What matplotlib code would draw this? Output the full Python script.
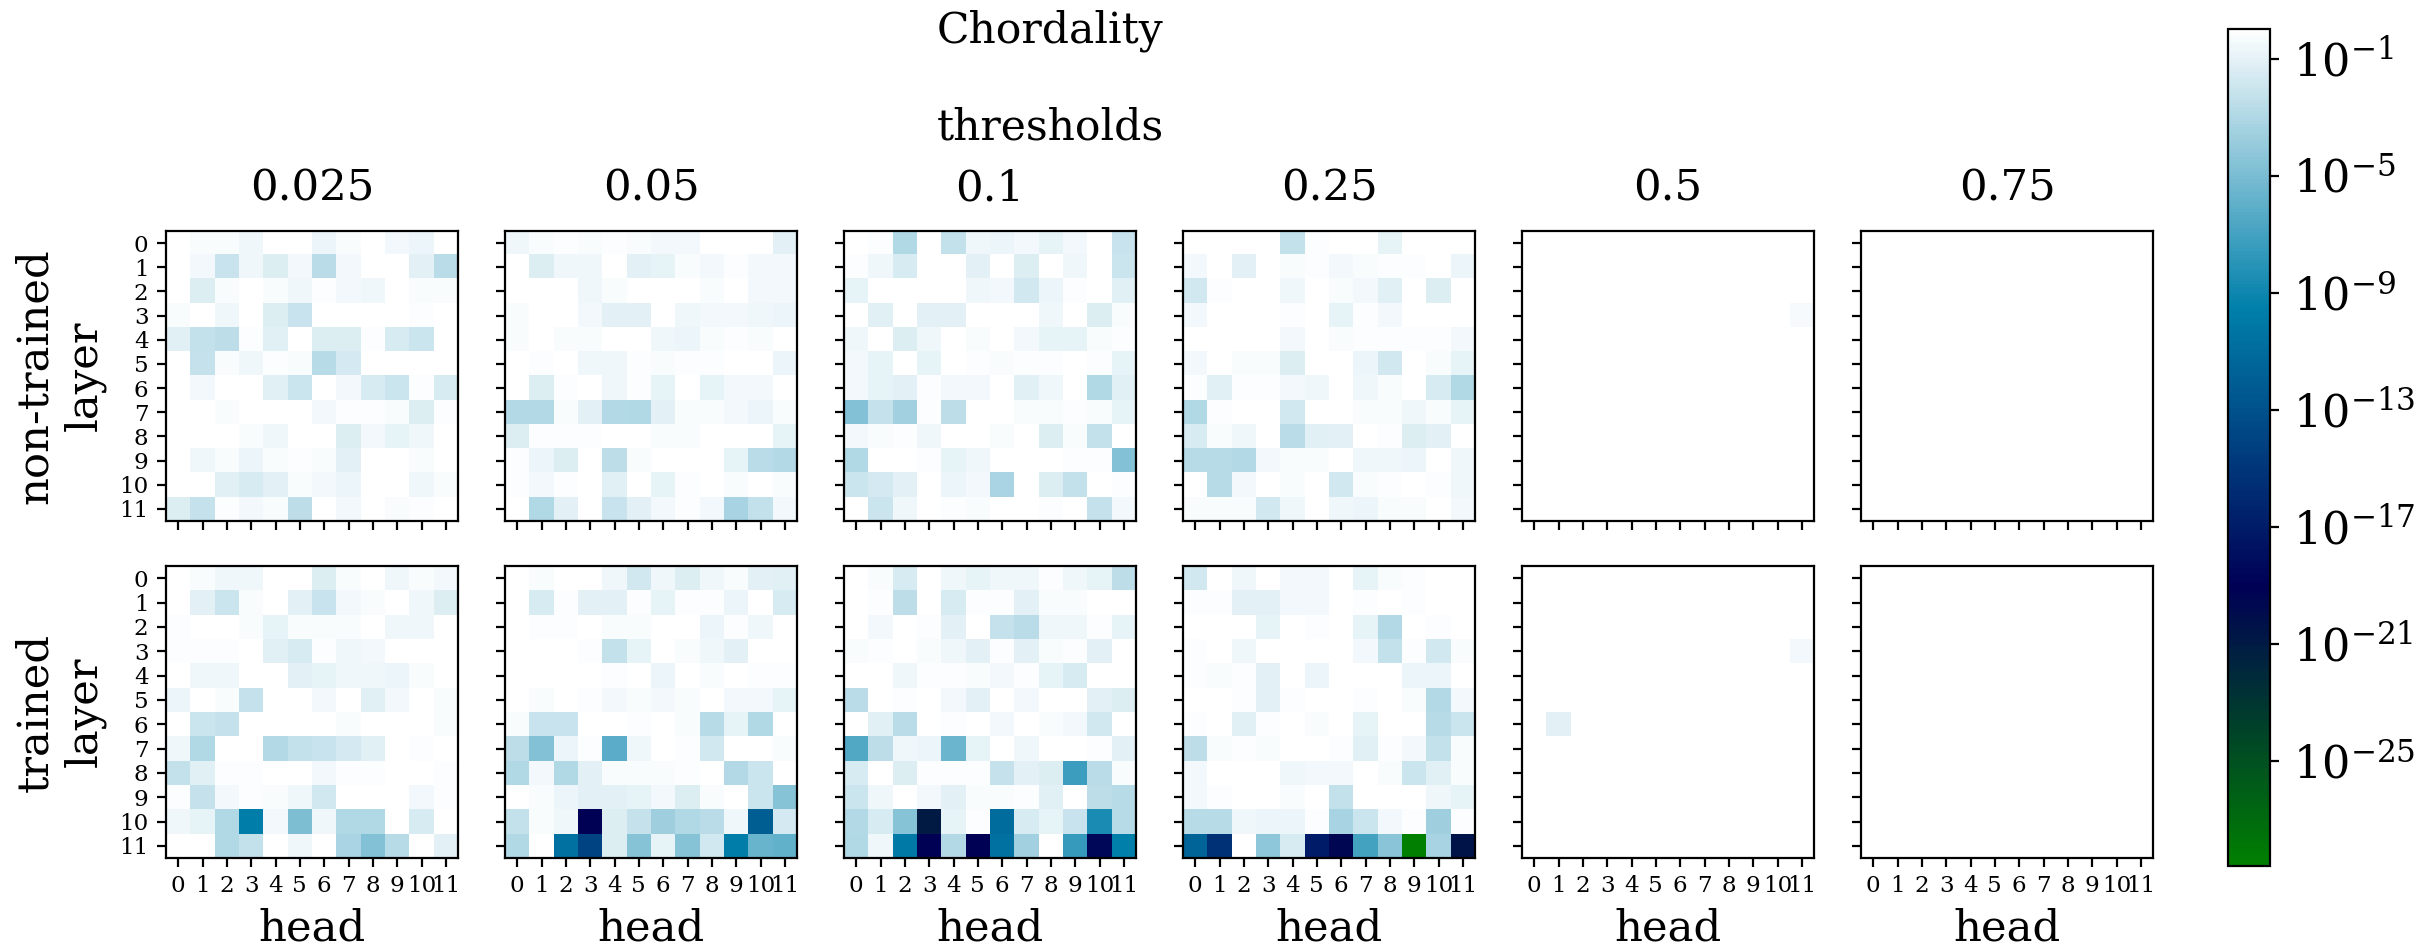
import numpy as np
import matplotlib
matplotlib.use("Agg")
import matplotlib.pyplot as plt
from matplotlib.colors import LogNorm

plt.rcParams['font.family'] = 'DejaVu Serif'
plt.rcParams['mathtext.fontset'] = 'dejavuserif'

thresholds = ['0.025', '0.05', '0.1', '0.25', '0.5', '0.75']
heads = list(range(12))
row_names = ['non-trained\nlayer', 'trained\nlayer']

# All cells: -log10(value), rows = layer 0..11, columns = head 0..11
nontrained_0025 = [
 [0,.3,.3,.6,0,0,.7,.3,.07,.45,.7,0],
 [.07,.45,2,.6,1.3,.45,2.6,.45,0,0,1,2.65],
 [.07,1.3,.3,0,.3,.6,.15,.45,.6,.07,.3,.3],
 [.3,0,.6,0,1.3,2,0,0,0,0,.15,0],
 [1.15,2.3,2.5,.15,1.15,0,1.3,1.3,.15,1.45,1.9,0],
 [0,2.2,.3,.6,.15,.3,2.7,1.6,0,0,0,.03],
 [.07,.45,0,0,1.15,1.9,0,.45,1.45,1.9,.15,1.45],
 [.07,.07,.3,0,0,0,.45,.15,.15,.3,1.3,.15],
 [.07,0,0,.3,.6,0,0,1.3,.45,.9,.6,0],
 [.07,.6,.3,.7,.3,.15,.3,1,0,0,.3,0],
 [0,.07,1.15,1.45,1,.3,.45,.7,.07,.07,.6,.3],
 [1.3,2.2,.15,.45,.3,2.5,0,.45,.07,.3,.15,.07]]
nontrained_005 = [
 [.6,.3,.15,.3,.15,.3,.45,.45,.07,.07,0,1],
 [0,1.3,.6,.6,0,1,.9,.3,.45,.15,.45,.45],
 [0,0,0,.6,.3,0,.07,.07,.3,0,.45,.45],
 [.3,.07,0,.45,1,1,0,.6,.45,.45,.6,.7],
 [.3,0,.3,.3,0,0,.6,.7,.3,.15,.3,.07],
 [0,.15,.07,.6,.6,.15,.3,.15,.15,.07,.07,.7],
 [0,1.3,.15,0,.6,.15,.9,0,.9,.45,.45,0],
 [2.8,2.8,.3,1,2.8,3,1,.3,.3,.45,.7,.3],
 [1.3,.15,.15,.15,.07,0,.3,.3,0,.07,0,.9],
 [.15,.7,1.3,0,2.5,.3,.07,0,0,.9,2.65,2.8],
 [.15,.45,.15,0,1.15,0,.9,.15,.07,.3,.07,.3],
 [.07,3,1,0,2,1,.45,.15,.45,3.3,2.3,.45]]
nontrained_01 = [
 [0,.15,3,0,2.3,.6,.7,.45,.9,.45,0,2],
 [.15,.6,1.45,0,.07,1,.07,1.3,.07,.6,.07,1.9],
 [.9,.07,0,.07,.07,.6,.45,1.75,.7,.15,0,1.15],
 [0,1.15,.07,1,1,.07,0,0,.6,0,1.3,.3],
 [.6,.07,1.3,.6,.07,.3,0,.45,.9,.9,.3,.15],
 [.45,.9,.07,.9,0,.15,.3,.15,.15,.03,.15,.9],
 [.45,.9,1,.15,.45,.45,.07,1.15,.6,0,2.9,1.15],
 [4.6,2.2,3.5,.15,2.5,0,.07,.3,.3,.15,.3,.9],
 [.45,.3,.15,.6,0,0,.3,.07,1.3,.3,2.3,0],
 [2.9,0,0,.15,.9,.6,0,.07,0,.15,.15,4.6],
 [1.9,1.6,1,0,.7,.45,3.2,.07,1.3,2.3,.07,.15],
 [0,1.9,.6,0,.15,.3,0,0,.15,.07,2.2,.45]]
nontrained_025 = [
 [0,0,.07,.07,2.3,.15,0,0,.9,.07,.07,.07],
 [.45,0,1,0,.3,.15,.45,.3,.15,.15,0,.7],
 [1.75,.15,0,0,.6,0,.3,.45,1.15,0,1.3,0],
 [.45,0,0,.07,.15,0,.9,.15,.45,0,.07,0],
 [0,0,.07,.07,.45,0,.3,.15,.15,.15,.15,.45],
 [.45,0,.3,.3,1.3,0,0,.7,1.75,0,.3,.9],
 [.15,1.15,.15,.15,.45,.6,0,.6,.3,0,1.45,3],
 [3,.15,0,0,1.75,0,0,.3,.3,.6,.3,.9],
 [1.45,.3,.6,0,2.6,1.15,1,.07,.15,1.3,1,.07],
 [2.7,2.75,2.85,.45,.3,.3,0,.6,.6,.7,0,.6],
 [0,2.7,.45,0,.3,0,1.75,.3,.15,0,.15,.6],
 [.3,.3,.3,1.75,.6,.07,.6,.7,.3,.3,0,.45]]
nontrained_05 = [[0]*12, [0]*12, [0]*12, [0]*11+[.4]] + [[0]*12 for _ in range(8)]
nontrained_075 = [[0]*12 for _ in range(12)]

trained_0025 = [
 [.07,.3,.6,.6,.07,.07,1.3,.3,.07,.6,.3,.45],
 [.07,1,1.9,.3,0,1,2,.45,.3,0,.6,1.3],
 [.15,0,0,.3,.9,.3,.3,.3,.07,.6,.6,0],
 [.15,.15,.15,0,1.15,1.45,.15,.6,.45,0,0,.07],
 [0,.6,.6,0,0,1,.9,.6,.6,.7,.3,.07],
 [.7,.07,.3,2.2,0,0,.45,0,1.15,.45,.07,.3],
 [0,1.9,2.2,0,0,0,0,.3,0,0,0,.3],
 [.6,2.9,.07,0,2.85,2.3,2,1.6,1.15,0,.15,.07],
 [2.3,1.15,.15,.15,0,0,.45,.15,.15,.07,0,.15],
 [.15,2.2,.45,.15,.3,.6,1.75,0,.07,.07,.45,.15],
 [.6,.9,3,9.7,.45,4.8,.6,2.9,2.9,0,1.45,0],
 [0,.07,2.9,2.3,0,.6,.07,3.2,4.6,2.75,0,1]]
trained_005 = [
 [.07,.3,0,0,.6,1.75,.6,1.3,.6,.3,1,1.15],
 [.07,1.45,.15,1,1,.15,.9,.15,.15,.7,.07,1.45],
 [0,.15,.15,0,.3,.3,0,.07,.7,.15,.6,0],
 [.07,0,.07,.15,2.3,.9,0,.3,.6,1,0,.04],
 [0,0,.07,0,.15,0,.7,.07,.3,0,.15,.15],
 [0,.3,.07,.15,.45,.3,.45,.3,0,.45,.45,.9],
 [.3,2,2,0,.03,.15,0,.3,2.7,.9,2.9,0],
 [2.5,4.6,.7,.15,6.2,.6,0,.15,1.75,0,0,.3],
 [3,.45,2.9,1,.3,.3,.3,.15,.07,2.85,1.9,0],
 [.07,.3,.7,1,1,.9,.45,1.3,.3,.07,1.9,4.5],
 [2.3,.3,.6,19,1.3,2.2,3.6,2.9,2.6,.6,12,1.6],
 [3,0,10.5,14,1.3,4.5,.9,4.5,1.75,9.7,5.6,5.8]]
trained_01 = [
 [.07,.3,1.45,0,.6,.9,.6,.6,.15,.6,.9,2.5],
 [.07,.15,2.5,0,1.45,.15,.15,1,.3,.3,0,.07],
 [0,.45,0,.15,1,0,2.2,2.6,.6,.6,.15,.9],
 [.3,.15,0,.3,.6,1,.15,1,.3,.15,1,0],
 [.07,.07,.6,.15,.15,.3,.45,.15,.9,1.45,0,0],
 [2.65,0,.15,0,.45,1,0,.45,0,0,1,1.3],
 [0,1.15,2.65,0,.15,0,.45,0,.3,.45,1.75,0],
 [6.5,2.5,.6,.7,5.5,.9,.07,.6,.07,0,.15,1],
 [1.45,0,1.3,.15,.15,.15,2.2,1,1.3,7.3,2.65,.3],
 [1.9,.6,0,.45,1,.3,.3,.15,1.15,0,2.5,2.7],
 [2.85,1.45,4.5,21,.9,.15,11,1.45,.9,2,8.5,2.75],
 [3,.6,10,19,2.85,19,10.5,3.5,.07,7.5,18.5,9.5]]
trained_025 = [
 [1.75,0,.6,0,.45,.45,0,.9,.3,.15,0,0],
 [.15,.15,1,1,.45,.45,0,.15,0,.15,0,0],
 [0,0,0,.9,0,.15,0,.9,2.85,0,.15,.07],
 [.15,0,.6,0,.07,.07,0,.45,2.3,.15,1.75,.3],
 [.15,.3,.15,1,.07,.7,.07,0,0,.7,.7,0],
 [0,0,.15,1,.15,0,0,.15,0,.3,2.85,.45],
 [.15,0,1.15,.15,0,.3,0,.9,0,0,2.7,1.9],
 [2.5,.3,.15,.3,0,.07,.2,1.15,.15,.45,2.3,.3],
 [.45,.07,.07,0,.6,.45,.45,.07,.3,1.9,1.15,.3],
 [.45,.15,0,0,.3,0,2.3,0,0,0,.6,.9],
 [2.7,2.7,.6,.7,.7,.15,3.3,1.9,.45,.15,3.6,.15],
 [11.5,15.5,.07,4.2,1.45,17,19.5,7,4.4,28.6,3.3,20.5]]
trained_05 = [[0]*12, [0]*12, [0]*12, [0]*11+[.5], [0]*12, [0]*12,
              [0,1]+[0]*10] + [[0]*12 for _ in range(5)]
trained_075 = [[0]*12 for _ in range(12)]

grids = [[nontrained_0025, nontrained_005, nontrained_01, nontrained_025, nontrained_05, nontrained_075],
         [trained_0025, trained_005, trained_01, trained_025, trained_05, trained_075]]

W, H = 2420, 951
fig = plt.figure(figsize=(W/200, H/200), dpi=200)
norm = LogNorm(vmin=10**-28.6, vmax=10**0.016)

def px_axes(l, t, r, b):
    return fig.add_axes([l/W, 1-b/H, (r-l)/W, (b-t)/H])

lefts = [166, 505, 844, 1183, 1522, 1861]
tops = [(231, 521), (566, 858)]
im = None
for i, (t, b) in enumerate(tops):
    for j, l in enumerate(lefts):
        ax = px_axes(l, t, l+292, b)
        im = ax.imshow(10.0**(-np.array(grids[i][j], dtype=float)), cmap='ocean', norm=norm, aspect='auto',
                       interpolation='nearest')
        ax.set_xticks(heads)
        ax.set_yticks(heads)
        ax.tick_params(length=3.3, width=0.8, labelsize=8.3, pad=3)
        if j == 0:
            ax.set_yticklabels(heads)
            ax.set_ylabel(row_names[i], fontsize=15.6, labelpad=5)
        else:
            ax.set_yticklabels([])
        if i == 1:
            ax.set_xticklabels(heads)
            ax.set_xlabel('head', fontsize=15.6, labelpad=3.5)
        else:
            ax.set_xticklabels([])
            ax.set_title(thresholds[j], fontsize=15.6, pad=11)

fig.text(1050/W, 1-9/H, 'Chordality\n\nthresholds', fontsize=15.3, ha='center', va='top')

cax = px_axes(2228, 29, 2270, 866)
cb = fig.colorbar(im, cax=cax)
cb.set_ticks([10.0**e for e in (-1, -5, -9, -13, -17, -21, -25)])
cb.minorticks_off()
cb.ax.tick_params(labelsize=16, length=3.3, width=0.8, pad=5)

fig.savefig('out.png', dpi=200)
